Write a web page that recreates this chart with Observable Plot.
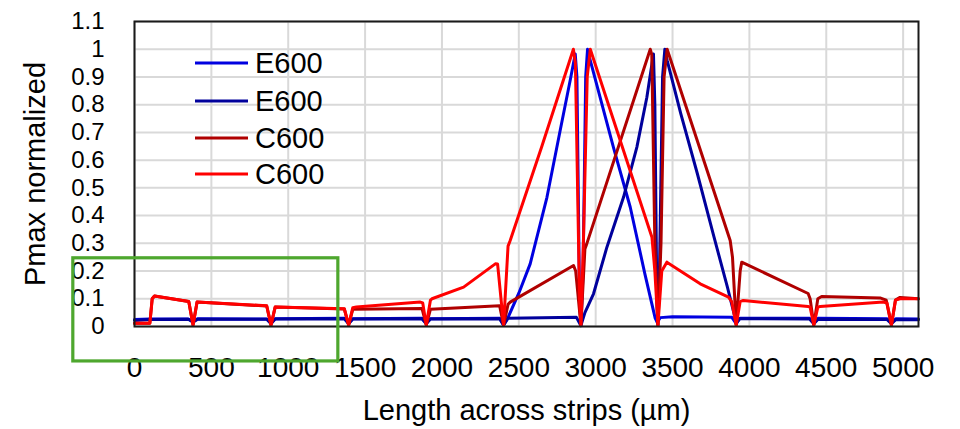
<!DOCTYPE html>
<html>
<head>
<meta charset="utf-8">
<script src="https://cdn.jsdelivr.net/npm/d3@7"></script>
<script src="https://cdn.jsdelivr.net/npm/@observablehq/plot@0.6"></script>
<style>
  html, body { margin: 0; padding: 0; background: #fff; }
  #chart { width: 960px; height: 429px; position: relative; }
</style>
</head>
<body>
<div id="chart"></div>
<script>
// ---------- data ----------
const seriesNames = ["E600", "E600", "C600", "C600"];

// x: length across strips (µm), y: Pmax normalized
const e600A = [
  [0, 0.025], [100, 0.027], [350, 0.027], [381, 0.018], [410, 0.028], [860, 0.027], [888, 0.012], [915, 0.028],
  [1365, 0.03], [1393, 0.012], [1420, 0.028], [1870, 0.03], [1898, 0.012], [1925, 0.028], [2375, 0.03],
  [2401, 0.005], [2431, 0.034], [2500, 0.12], [2574, 0.226], [2683, 0.466], [2769, 0.707], [2834, 0.887],
  [2867, 0.983], [2878, 0.9], [2895, 0.1], [2904, 0.005], [2918, 0.2], [2935, 0.9], [2947, 1.0], [2960, 0.97],
  [3116, 0.645], [3225, 0.43], [3320, 0.19], [3387, 0.03], [3400, 0.015], [3420, 0.032], [3500, 0.035],
  [3886, 0.033], [3914, 0.01], [3940, 0.03], [4391, 0.03], [4419, 0.012], [4447, 0.03], [4896, 0.028],
  [4924, 0.012], [4952, 0.028], [5100, 0.027]
];
const e600B = [
  [0, 0.022], [100, 0.025], [350, 0.026], [381, 0.015], [410, 0.026], [860, 0.026], [888, 0.01], [915, 0.027],
  [1365, 0.028], [1393, 0.01], [1420, 0.027], [1870, 0.028], [1898, 0.01], [1925, 0.027], [2375, 0.028],
  [2401, 0.005], [2430, 0.03], [2875, 0.033], [2904, 0.003], [2930, 0.05], [2986, 0.118], [3073, 0.286],
  [3181, 0.466], [3268, 0.647], [3333, 0.827], [3366, 0.947], [3376, 0.983], [3385, 0.8], [3398, 0.1],
  [3405, 0.005], [3415, 0.2], [3435, 0.9], [3450, 1.0], [3465, 0.96], [3554, 0.767], [3662, 0.55],
  [3770, 0.322], [3857, 0.142], [3900, 0.046], [3914, 0.01], [3935, 0.028], [4391, 0.027], [4419, 0.01],
  [4447, 0.026], [4896, 0.025], [4924, 0.01], [4952, 0.025], [5100, 0.024]
];
const c600A = [
  [0, 0.012], [100, 0.012], [115, 0.1], [130, 0.11], [353, 0.09], [381, 0.005], [407, 0.088], [860, 0.074],
  [888, 0.005], [915, 0.07], [1365, 0.063], [1393, 0.005], [1420, 0.062], [1870, 0.065], [1898, 0.005],
  [1925, 0.062], [2375, 0.075], [2401, 0.005], [2430, 0.08], [2444, 0.088], [2856, 0.22], [2870, 0.2],
  [2904, 0.005], [2930, 0.28], [2942, 0.298], [3355, 1.0], [3365, 0.98], [3385, 0.3], [3405, 0.005],
  [3425, 0.3], [3445, 0.9], [3465, 1.0], [3875, 0.31], [3890, 0.25], [3914, 0.005], [3940, 0.2],
  [3950, 0.232], [4382, 0.119], [4395, 0.1], [4419, 0.005], [4445, 0.1], [4470, 0.108], [4850, 0.103],
  [4890, 0.095], [4924, 0.005], [4950, 0.095], [4980, 0.105], [5100, 0.1]
];
const c600B = [
  [0, 0.012], [100, 0.012], [115, 0.1], [130, 0.11], [353, 0.09], [381, 0.005], [407, 0.088], [860, 0.075],
  [888, 0.005], [915, 0.07], [1365, 0.064], [1393, 0.005], [1420, 0.068], [1443, 0.07], [1859, 0.088],
  [1875, 0.085], [1898, 0.005], [1925, 0.095], [1935, 0.1], [2141, 0.142], [2347, 0.226], [2362, 0.225],
  [2401, 0.005], [2430, 0.29], [2444, 0.31], [2650, 0.65], [2855, 1.0], [2868, 0.95], [2895, 0.1],
  [2904, 0.005], [2920, 0.3], [2945, 0.9], [2965, 1.0], [3366, 0.322], [3385, 0.2], [3405, 0.005],
  [3430, 0.2], [3463, 0.232], [3680, 0.154], [3864, 0.106], [3885, 0.09], [3914, 0.005], [3940, 0.09],
  [3960, 0.094], [4382, 0.072], [4395, 0.07], [4419, 0.005], [4445, 0.07], [4460, 0.072], [4871, 0.088],
  [4895, 0.085], [4924, 0.005], [4950, 0.095], [4980, 0.1], [5100, 0.1]
];

const xTicks = [0, 500, 1000, 1500, 2000, 2500, 3000, 3500, 4000, 4500, 5000];
const yTicks = [0, 0.1, 0.2, 0.3, 0.4, 0.5, 0.6, 0.7, 0.8, 0.9, 1, 1.1];
const xLabel = "Length across strips (µm)";
const yLabel = "Pmax normalized";

// green highlight box, in data units
const boxX = [-398, 1326];
const boxY = [-0.126, 0.246];

// ---------- styles ----------
const colors = ["#0000e0", "#00009c", "#b00000", "#ff0000"];
const FONT = "'Liberation Sans', Arial, sans-serif";

const seriesData = [e600A, e600B, c600A, c600B];

const lineMarks = seriesData.map((pts, i) =>
  Plot.line(pts, {x: d => d[0], y: d => d[1], stroke: colors[i], strokeWidth: 3, strokeLinejoin: "round"})
);

const chart = Plot.plot({
  width: 960,
  height: 429,
  marginLeft: 134,
  marginRight: 42,
  marginTop: 21,
  marginBottom: 103,
  style: {fontFamily: FONT, fontSize: "28px", color: "#000", background: "#fff", overflow: "visible"},
  x: {domain: [0, 5100], label: null},
  y: {domain: [0, 1.1], label: null},
  marks: [
    Plot.gridX(xTicks, {stroke: "#d9d9d9", strokeOpacity: 1, strokeWidth: 2}),
    Plot.gridY(yTicks, {stroke: "#d9d9d9", strokeOpacity: 1, strokeWidth: 2}),
    Plot.axisX(xTicks, {tickSize: 0, tickPadding: 31, tickFormat: d3.format("d"), fontSize: 28, label: null}),
    Plot.axisY(yTicks, {tickSize: 0, tickPadding: 30, tickFormat: d3.format("~g"), fontSize: 24, label: null}),
    ...lineMarks,
    Plot.frame({stroke: "#1a1a1a", strokeWidth: 2}),
    Plot.rect([0], {x1: boxX[0], x2: boxX[1], y1: boxY[0], y2: boxY[1], fill: "none", stroke: "#4ea72e", strokeWidth: 3.2}),
    Plot.text([xLabel], {frameAnchor: "bottom", dy: 84, fontSize: 29, lineAnchor: "middle", textAnchor: "middle", text: d => d}),
    Plot.text([yLabel], {frameAnchor: "left", dx: -99, rotate: -90, fontSize: 29, lineAnchor: "middle", textAnchor: "middle", text: d => d})
  ]
});

document.getElementById("chart").appendChild(chart);

// legend inside the plot area
const svg = d3.select(chart);
const lg = svg.append("g").attr("font-family", FONT).attr("font-size", 29).attr("text-anchor", "start");
const rowY = [63, 101, 138, 174];
seriesNames.forEach((name, i) => {
  lg.append("line").attr("x1", 195).attr("x2", 248).attr("y1", rowY[i]).attr("y2", rowY[i])
    .attr("stroke", colors[i]).attr("stroke-width", 3);
  lg.append("text").attr("x", 255).attr("y", rowY[i]).attr("dy", "0.36em").attr("fill", "#000").text(name);
});
</script>
</body>
</html>
